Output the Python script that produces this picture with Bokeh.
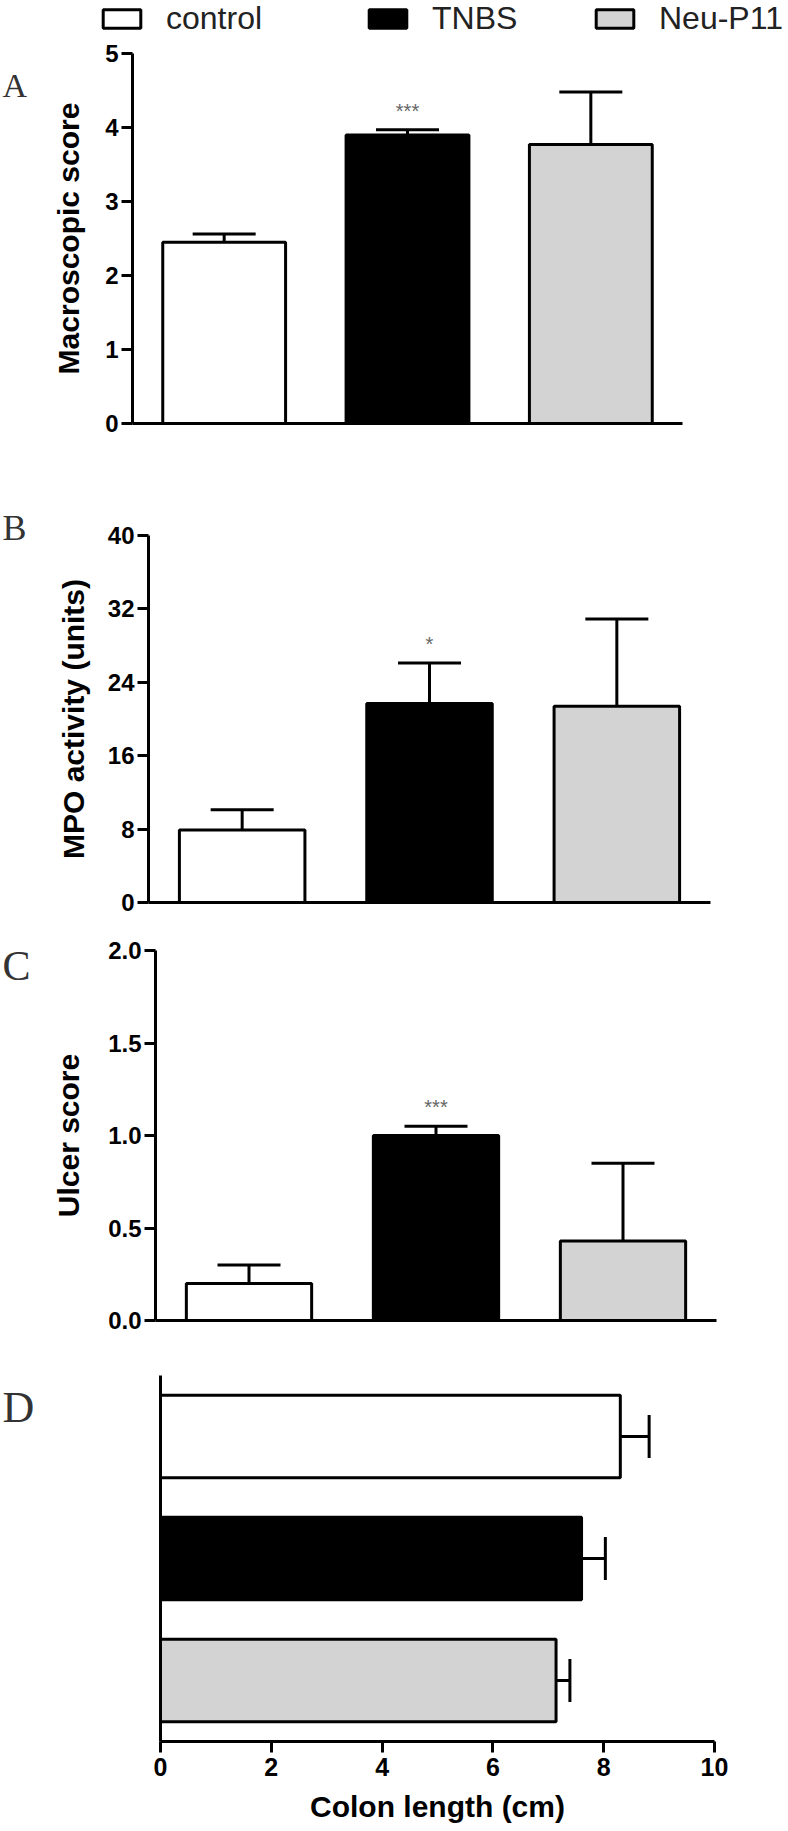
from bokeh.plotting import figure
from bokeh.models import (FactorRange, Range1d, Whisker, TeeHead, ColumnDataSource,
                          FixedTicker, PrintfTickFormatter, Legend, LegendItem, Label)
from bokeh.layouts import column, row
from bokeh.embed import file_html
from bokeh.resources import INLINE
from bokeh.core.properties import value

# ---------------- data ----------------
groups = ["control", "TNBS", "Neu-P11"]
bar_colors = ["#ffffff", "#000000", "#d3d3d3"]

macro_mean = [2.45, 3.90, 3.77]
macro_sem = [0.11, 0.07, 0.71]
macro_sig = ["", "***", ""]

mpo_mean = [7.9, 21.7, 21.4]
mpo_sem = [2.2, 4.4, 9.5]
mpo_sig = ["", "*", ""]

ulcer_mean = [0.20, 1.00, 0.43]
ulcer_sem = [0.10, 0.05, 0.42]
ulcer_sig = ["", "***", ""]

colon_mean = [8.30, 7.60, 7.14]
colon_sem = [0.52, 0.43, 0.25]

a_ticks = [0, 1, 2, 3, 4, 5]
b_ticks = [0, 8, 16, 24, 32, 40]
c_ticks = [0, 0.5, 1.0, 1.5, 2.0]
d_ticks = [0, 2, 4, 6, 8, 10]

panel_letters = ["A", "B", "C", "D"]

# ---------------- style ----------------
SANS = "Liberation Sans"
SERIF = "Liberation Serif"
LET_W = 40                 # width of the panel-letter strip
COL_W = 788 - LET_W        # width of the chart column
PAGE_H = 1831
LEG_H = 38


def style_axis(ax, standoff, tick_size="24px"):
    ax.axis_line_width = 3
    ax.axis_line_color = "black"
    ax.major_tick_line_width = 3
    ax.major_tick_line_color = "black"
    ax.major_tick_out = 11
    ax.major_tick_in = 0
    ax.minor_tick_line_color = None
    ax.major_label_text_font = SANS
    ax.major_label_text_font_style = "bold"
    ax.major_label_text_font_size = tick_size
    ax.major_label_text_color = "black"
    ax.major_label_standoff = 3
    ax.axis_label_text_font = SANS
    ax.axis_label_text_font_style = "bold"
    ax.axis_label_text_font_size = "30px"
    ax.axis_label_text_color = "black"
    ax.axis_label_standoff = standoff


def bare_axis(ax):
    ax.ticker = FixedTicker(ticks=[])
    ax.major_tick_line_color = None
    ax.minor_tick_line_color = None
    ax.axis_line_width = 3
    ax.axis_line_color = "black"


def base_fig(left, fw, top, fh, bottom, **kw):
    p = figure(frame_width=fw, frame_height=fh,
               min_border_left=left, min_border_right=COL_W - left - fw,
               min_border_top=top, min_border_bottom=bottom,
               output_backend="svg", toolbar_location=None, title=None, **kw)
    p.outline_line_color = None
    p.xgrid.visible = False
    p.ygrid.visible = False
    p.background_fill_color = "white"
    p.border_fill_color = "white"
    return p


def vpanel(means, sems, sigs, ticks, ylabel, layout, standoff, fmt=None):
    left, fw, top, fh, bottom = layout
    src = ColumnDataSource(dict(g=groups, m=means,
                                hi=[m + s for m, s in zip(means, sems)],
                                c=bar_colors, sig=sigs))
    p = base_fig(left, fw, top, fh, bottom,
                 x_range=FactorRange(factors=groups),
                 y_range=Range1d(ticks[0], ticks[-1]))
    p.vbar(x="g", top="m", width=0.67, source=src, fill_color="c",
           line_color="black", line_width=3)
    p.add_layout(Whisker(base="g", lower="m", upper="hi", source=src, dimension="height",
                         line_width=3, line_color="black",
                         upper_head=TeeHead(size=63, line_width=3, line_color="black"),
                         lower_head=None))
    p.text(x="g", y="hi", text="sig", source=src, text_align="center",
           text_baseline="middle", y_offset=-19, text_font=value(SANS),
           text_font_size="20px", text_color="#666666")
    bare_axis(p.xaxis[0])
    ya = p.yaxis[0]
    style_axis(ya, standoff)
    ya.ticker = FixedTicker(ticks=ticks)
    if fmt:
        ya.formatter = PrintfTickFormatter(format=fmt)
    ya.axis_label = ylabel
    return p


# ---------- legend strip ----------
srcL = ColumnDataSource(dict(g=groups, m=macro_mean, c=bar_colors))
pL = figure(frame_width=COL_W, frame_height=LEG_H, min_border=0,
            x_range=FactorRange(factors=groups), y_range=Range1d(0, 1),
            x_axis_type=None, y_axis_type=None,
            output_backend="svg", toolbar_location=None, title=None)
pL.outline_line_color = None
pL.xgrid.visible = False
pL.ygrid.visible = False
rL = pL.vbar(x="g", top="m", width=0.67, source=srcL, fill_color="c",
             line_color="black", line_width=3)
rL.visible = False
leg_x = [58, 324, 551]
for i, g in enumerate(groups):
    pL.add_layout(Legend(items=[LegendItem(label=g, renderers=[rL], index=i)],
                         location=(leg_x[i], 1), orientation="horizontal",
                         glyph_width=47, glyph_height=23, label_standoff=21,
                         label_text_font=SANS, label_text_font_size="32px",
                         label_text_color="#222222", label_height=23,
                         padding=0, margin=0, spacing=0, border_line_color=None,
                         background_fill_alpha=0))

# ---------- panels ----------
pA = vpanel(macro_mean, macro_sem, macro_sig, a_ticks, "Macroscopic score",
            (92, 550, 53 - LEG_H, 370, 55), 17)
pB = vpanel(mpo_mean, mpo_sem, mpo_sig, b_ticks, "MPO activity (units)",
            (108, 562, 57, 367, 23), 15)
pC = vpanel(ulcer_mean, ulcer_sem, ulcer_sig, c_ticks, "Ulcer score",
            (115, 561, 25, 370, 20), 20, fmt="%.1f")

srcD = ColumnDataSource(dict(g=groups, m=colon_mean,
                             hi=[m + s for m, s in zip(colon_mean, colon_sem)],
                             c=bar_colors))
pD = base_fig(120, 554, 35, 366, 90,
              y_range=FactorRange(factors=list(reversed(groups))),
              x_range=Range1d(d_ticks[0], d_ticks[-1]))
pD.hbar(y="g", left=0, right="m", height=0.675, source=srcD, fill_color="c",
        line_color="black", line_width=3)
pD.add_layout(Whisker(base="g", lower="m", upper="hi", source=srcD, dimension="width",
                      line_width=3, line_color="black",
                      upper_head=TeeHead(size=43, line_width=3, line_color="black"),
                      lower_head=None))
bare_axis(pD.yaxis[0])
xa = pD.xaxis[0]
style_axis(xa, 11, tick_size="25px")
xa.major_label_standoff = 5
xa.ticker = FixedTicker(ticks=d_ticks)
xa.axis_label = "Colon length (cm)"

# ---------- panel letters strip ----------
pLet = figure(frame_width=LET_W, frame_height=PAGE_H, min_border=0,
              x_range=Range1d(0, 1), y_range=Range1d(0, 1),
              x_axis_type=None, y_axis_type=None,
              output_backend="svg", toolbar_location=None, title=None)
pLet.outline_line_color = None
pLet.xgrid.visible = False
pLet.ygrid.visible = False
letter_baseline = [85, 527, 965, 1407]      # page y of each letter's baseline
letter_size = ["34px", "36px", "42px", "44px"]
for t, yb, fs in zip(panel_letters, letter_baseline, letter_size):
    pLet.add_layout(Label(x=2, y=PAGE_H - yb, x_units="screen", y_units="screen", text=t,
                          text_font=SERIF, text_font_size=fs, text_color="#333333",
                          text_baseline="alphabetic", text_align="left"))

layout = row(pLet, column(pL, row(pA), row(pB), row(pC), row(pD), spacing=0), spacing=0)
open("out.html", "w").write(file_html(layout, INLINE))
